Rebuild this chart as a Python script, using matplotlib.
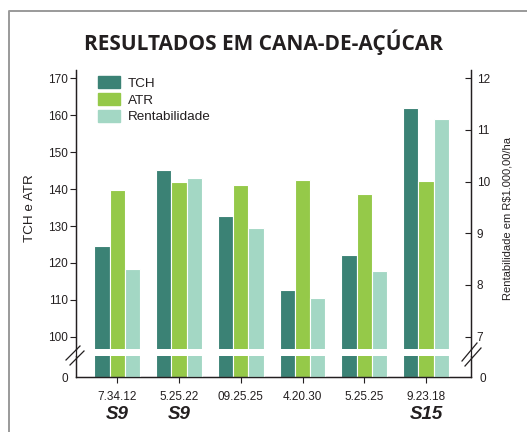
import numpy as np
import matplotlib.pyplot as plt
from matplotlib.lines import Line2D

# -----------------------------
# Dados
# -----------------------------
codigos = ['7.34.12', '5.25.22', '09.25.25', '4.20.30', '5.25.25', '9.23.18']
sistemas = ['S9', 'S9', '', '', '', 'S15']
tch = [124.6, 145.2, 132.7, 112.7, 122.1, 162.0]
atr = [139.7, 141.9, 141.1, 142.5, 138.7, 142.2]
rentabilidade = [8.31, 10.07, 9.10, 7.75, 8.27, 11.21]

cor_tch = '#3b8275'
cor_atr = '#95c949'
cor_rent = '#a3d7c4'
cor_texto = '#231f20'

plt.rcParams['font.family'] = ['Liberation Sans', 'DejaVu Sans']

W, H = 527, 432
fig = plt.figure(figsize=(W / 100, H / 100), dpi=100)


def fx(px):
    return px / W


def fy(py):
    return 1 - py / H


x0, x1 = 76, 471
ax_sup = fig.add_axes([fx(x0), fy(349), fx(x1 - x0), (349 - 70) / H])
ax_inf = fig.add_axes([fx(x0), fy(377), fx(x1 - x0), (377 - 356) / H])
ax_sup_r = ax_sup.twinx()
ax_inf_r = ax_inf.twinx()

x = np.arange(len(codigos))
w = 0.248
estilo = dict(width=w, edgecolor='white', linewidth=0.8)

for ax_l, ax_r in [(ax_sup, ax_sup_r), (ax_inf, ax_inf_r)]:
    ax_l.bar(x - w, tch, color=cor_tch, label='TCH', **estilo)
    ax_l.bar(x, atr, color=cor_atr, label='ATR', **estilo)
    ax_r.bar(x + w, rentabilidade, color=cor_rent, label='Rentabilidade', **estilo)
    for a in (ax_l, ax_r):
        a.set_xlim(-0.67, 5.73)
        a.spines['top'].set_visible(False)
        a.tick_params(colors=cor_texto, labelsize=8.5)
        for s in a.spines.values():
            s.set_linewidth(0.9)
            s.set_color(cor_texto)

# eixo superior
ax_sup.set_ylim(96.67, 172.3)
ax_sup_r.set_ylim(6.76, 12.16)
ax_sup.set_yticks(range(100, 171, 10))
ax_sup_r.set_yticks(range(7, 13))
for a in (ax_sup, ax_sup_r):
    a.spines['bottom'].set_visible(False)
ax_sup.set_xticks([])
ax_sup.tick_params(axis='y', direction='out', length=4, pad=2)
ax_sup_r.tick_params(axis='y', direction='in', length=4, pad=4)
ax_sup_r.set_zorder(ax_sup.get_zorder() + 1)
ax_sup_r.patch.set_visible(False)

# eixo inferior
ax_inf.set_ylim(0, 5)
ax_inf_r.set_ylim(0, 1)
ax_inf.set_yticks([0])
ax_inf_r.set_yticks([0])
ax_inf.tick_params(axis='y', length=0, pad=6)
ax_inf_r.tick_params(axis='y', length=0, pad=6)
ax_inf.set_xticks(x)
ax_inf.set_xticklabels(codigos)
ax_inf.tick_params(axis='x', direction='out', length=4, pad=6, labelsize=8.5)

for xi, s in zip(x, sistemas):
    if s:
        ax_inf.text(xi, -1.78, s, transform=ax_inf.get_xaxis_transform(),
                    ha='center', va='center', fontsize=13.5, fontweight='bold',
                    fontstyle='italic', color=cor_texto)

# legenda
handles = [plt.Rectangle((0, 0), 1, 1, color=c) for c in (cor_tch, cor_atr, cor_rent)]
ax_sup.legend(handles, ['TCH', 'ATR', 'Rentabilidade'], loc='upper left',
              bbox_to_anchor=((98 - x0) / (x1 - x0), 1 - 6 / 279),
              frameon=False, fontsize=9.7, borderpad=0, borderaxespad=0,
              handlelength=1.63, handleheight=1.04, handletextpad=0.6,
              labelspacing=0.22, labelcolor=cor_texto)

# ligação dos eixos e marcas de quebra
for xp in (x0, x1):
    fig.add_artist(Line2D([fx(xp), fx(xp)], [fy(349), fy(356)],
                          color=cor_texto, lw=0.9))
quebras = [((66, 360), (80, 346)), ((70, 365), (84, 351)),
           ((462, 361), (477, 343)), ((465, 366), (481, 348))]
for (xa, ya), (xb, yb) in quebras:
    fig.add_artist(Line2D([fx(xa), fx(xb)], [fy(ya), fy(yb)],
                          color=cor_texto, lw=0.9))

# moldura cinza
fig.add_artist(Line2D([fx(8.5), fx(8.5), fx(527)], [fy(432), fy(10.5), fy(10.5)],
                      color='#9a9a9a', lw=1.4))

# textos
fig.text(0.5, fy(42), 'RESULTADOS EM CANA-DE-AÇÚCAR', ha='center', va='center',
         fontsize=15, fontweight='bold', family='Open Sans', color=cor_texto)
fig.text(fx(30), fy(208), 'TCH e ATR', rotation=90, ha='center', va='center',
         fontsize=9.6, color=cor_texto)
fig.text(fx(508), fy(218), 'Rentabilidade em R$1.000,00/ha', rotation=90,
         ha='center', va='center', fontsize=8, color=cor_texto)

fig.savefig('out.png', dpi=100)
